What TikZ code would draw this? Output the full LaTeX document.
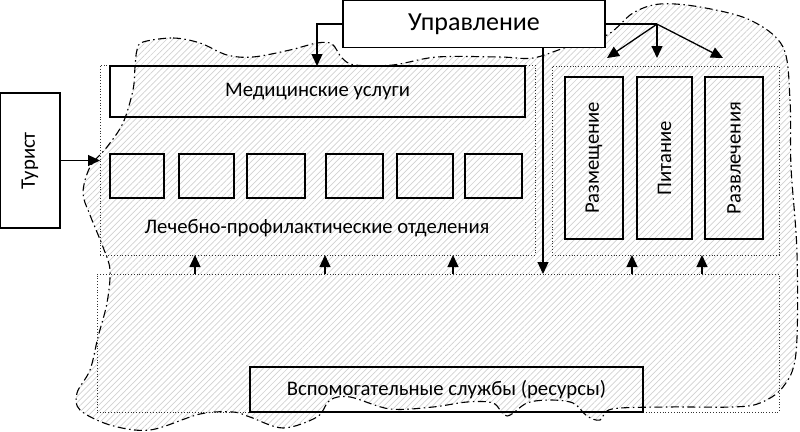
\documentclass[tikz,border=0pt]{standalone}
\usepackage{fontspec}
\setmainfont{Carlito}
\usetikzlibrary{arrows.meta,patterns.meta}
\tikzset{
  lbl/.style={font=\fontsize{20.7}{24}\selectfont},
  box/.style={draw=black,line width=1.2pt,inner sep=0pt,outer sep=0pt,anchor=north west},
  region/.style={draw=black!80,dotted,line width=0.8pt,inner sep=0pt,outer sep=0pt,anchor=north west},
  arr/.style={line width=1.3pt,-{Triangle[length=12pt,width=11pt]}},
  cloud/.style={line width=1.1pt,dash pattern=on 8pt off 3.5pt on 1.5pt off 3.5pt,pattern={Lines[angle=45,distance=4.3pt,line width=0.7pt]},pattern color=black!18}
}
\begin{document}
\begin{tikzpicture}[x=1pt,y=-1pt]
\useasboundingbox (0,0) rectangle (800,431);
% cloud outline with hatching
\draw[cloud] plot[smooth cycle,tension=0.55] coordinates {
(143,42) (173,38) (200,43) (227,55) (253,57) (290,50) (317,43) (332,44) (342,58) (355,65) (393,65) (437,57) (500,57) (533,58) (567,47) (607,35) (633,13) (660,4) (700,7) (750,20) (783,47) (790,100) (791,167) (797,253) (796,353) (783,387) (760,403) (733,407) (667,407) (612,409) (600,420) (587,416) (573,403) (550,400) (527,403) (507,416) (493,403) (467,402) (433,407) (390,409) (350,397) (330,400) (317,417) (283,428) (250,417) (233,412) (200,414) (150,430) (110,425) (80,410) (77,393) (90,370) (98,337) (107,303) (110,270) (103,247) (90,215) (83,193) (90,167) (107,147) (123,123) (133,90) (135,67) (137,50)};
% dotted regions
\node[region,minimum width=435pt,minimum height=190pt] (left) at (100,65) {};
\node[region,minimum width=227pt,minimum height=189pt] (right) at (552,66) {};
\node[region,minimum width=682pt,minimum height=138pt] (aux) at (97,274) {};
% boxes
\node[box,minimum width=415pt,minimum height=51pt] (med) at (110,66) {};
\node[lbl] at (med.center) (medt) {Медицинские услуги};
\node[box,minimum width=54pt,minimum height=44pt] (b1) at (110,154) {};
\node[box,minimum width=55pt,minimum height=44pt] (b2) at (179,154) {};
\node[box,minimum width=58pt,minimum height=44pt] (b3) at (247,154) {};
\node[box,minimum width=57pt,minimum height=44pt] (b4) at (326,154) {};
\node[box,minimum width=56pt,minimum height=44pt] (b5) at (397,154) {};
\node[box,minimum width=57pt,minimum height=44pt] (b6) at (465,154) {};
\node[lbl] (lpo) at (317,228) {Лечебно-профилактические отделения};
\node[box,minimum width=58pt,minimum height=162pt] (r1) at (565,77) {};
\node[box,minimum width=55pt,minimum height=162pt] (r2) at (637,77) {};
\node[box,minimum width=58pt,minimum height=162pt] (r3) at (705,77) {};
\node[rotate=90,lbl] (r1t) at (r1.center) {Размещение};
\node[rotate=90,lbl] (r2t) at (r2.center) {Питание};
\node[rotate=90,lbl] (r3t) at (r3.center) {Развлечения};
\node[box,minimum width=393pt,minimum height=45pt] (vsp) at (250,367) {};
\node[lbl] (vspt) at (vsp.center) {Вспомогательные службы (ресурсы)};
\node[box,fill=white,minimum width=60pt,minimum height=135pt] (tur) at (0,93) {};
\node[rotate=90,lbl] (turt) at (tur.center) {Турист};
\node[box,fill=white,minimum width=262pt,minimum height=47pt] (upr) at (343,0.6) {};
\node[font=\fontsize{26}{30}\selectfont] (uprt) at (upr.center) {Управление};
% connectors
\draw[arr] (tur.east) -- (left.west |- tur.east);
\draw[arr] (upr.west) -| (med.north -| 317,0);
\draw[line width=1.3pt] (upr.east) -- ++(52,0) coordinate (br);
\coordinate (e1) at (607,58);
\coordinate (e2) at (657,58);
\coordinate (e3) at (723,58);
\draw[arr] (br) -- (e1);
\draw[arr] (br) -- (e2);
\draw[arr] (br) -- (e3);
\draw[arr] (upr.south -| 543,0) -- (aux.north -| 543,0);
\foreach \x in {195,325,453} \draw[arr] (aux.north -| \x,0) -- (left.south -| \x,0);
\foreach \x in {632,702} \draw[arr] (aux.north -| \x,0) -- (right.south -| \x,0);
\end{tikzpicture}
\end{document}
